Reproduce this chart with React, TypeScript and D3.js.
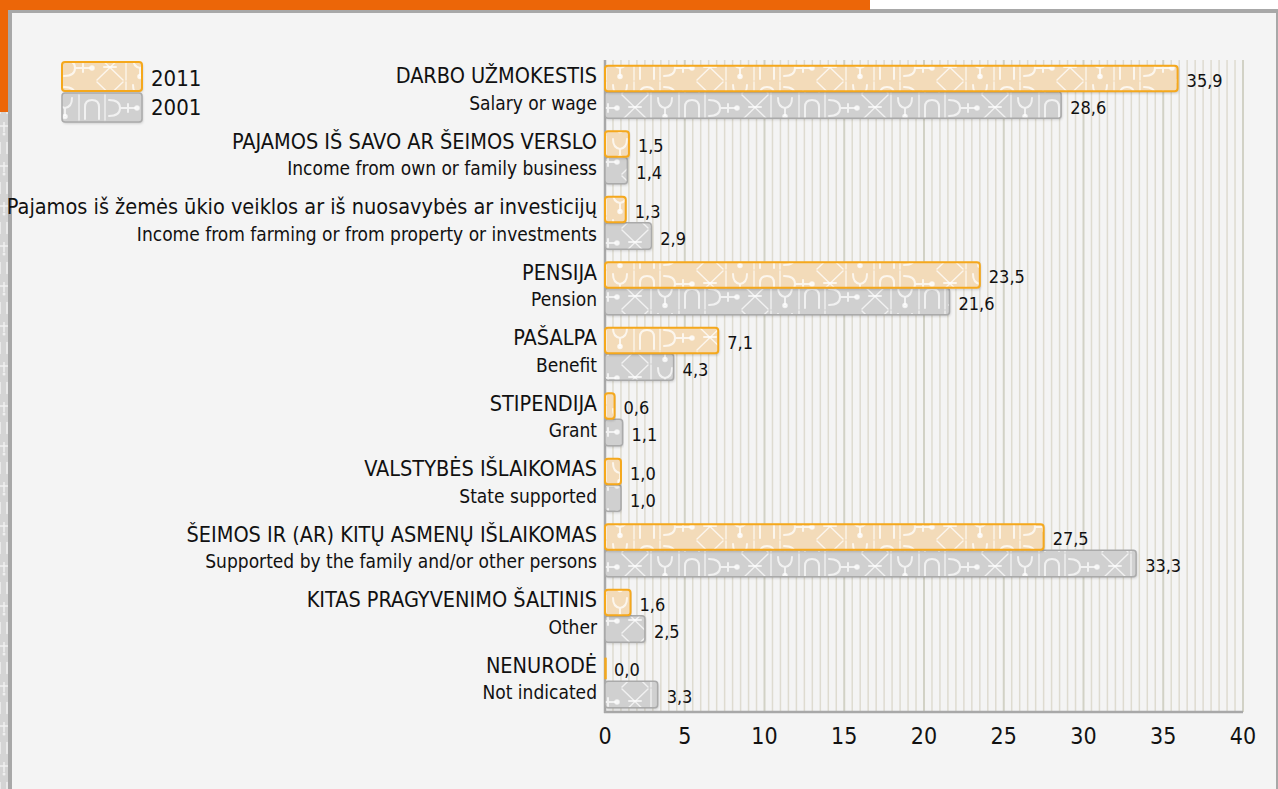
import React from "react";
import * as d3 from "d3";

const categoriesLT = [
  "DARBO UŽMOKESTIS",
  "PAJAMOS IŠ SAVO AR ŠEIMOS VERSLO",
  "Pajamos iš žemės ūkio veiklos ar iš nuosavybės ar investicijų",
  "PENSIJA",
  "PAŠALPA",
  "STIPENDIJA",
  "VALSTYBĖS IŠLAIKOMAS",
  "ŠEIMOS IR (AR) KITŲ ASMENŲ IŠLAIKOMAS",
  "KITAS PRAGYVENIMO ŠALTINIS",
  "NENURODĖ",
];
const categoriesEN = [
  "Salary or wage",
  "Income from own or family business",
  "Income from farming or from property or investments",
  "Pension",
  "Benefit",
  "Grant",
  "State supported",
  "Supported by the family and/or other persons",
  "Other",
  "Not indicated",
];
const values2011 = [35.9, 1.5, 1.3, 23.5, 7.1, 0.6, 1.0, 27.5, 1.6, 0.0];
const values2001 = [28.6, 1.4, 2.9, 21.6, 4.3, 1.1, 1.0, 33.3, 2.5, 3.3];
const xTicks = [0, 5, 10, 15, 20, 25, 30, 35, 40];
const legendLabels = ["2011", "2001"];

const FONT = "'DejaVu Sans Condensed', 'Liberation Sans Narrow', sans-serif";

const fmt = (v: number) => v.toFixed(1).replace(".", ",");

function Glyphs({ color }: { color: string }) {
  // decorative folk-motif tile, 120 x 27
  return (
    <g fill="none" stroke={color} strokeWidth={2} strokeLinecap="round">
      <path d="M1 1 V26 M29 1 V26 M55 1 V26" strokeWidth={1.3} />
      {/* Y */}
      <path d="M8 4 Q8 13 15 14 Q22 13 22 4 M15 14 V21" />
      <circle cx={15} cy={22.5} r={1.8} fill={color} />
      {/* arch */}
      <path d="M35 25 V13 Q35 6 42 6 Q49 6 49 13 V25" />
      {/* ɔ-+ */}
      <path d="M59 6 Q70 6 70 14 Q70 22 59 22 M70 14 H85 M78 10 V18" />
      <circle cx={87} cy={14} r={1.8} fill={color} />
      {/* X */}
      <path d="M92 1 L118 26 M118 1 L92 26" strokeWidth={1.4} />
      <path d="M99 13 H111" />
    </g>
  );
}

export default function App() {
  const W = 1278;
  const H = 789;
  const x = d3.scaleLinear().domain([0, 40]).range([605, 1243]);
  const y = d3
    .scaleBand<string>()
    .domain(categoriesLT)
    .range([59, 714])
    .padding(0);
  const bh = 26.6;
  const gridVals = d3.range(0, 40.01, 0.5);

  return (
    <svg
      width={W}
      height={H}
      style={{ position: "absolute", left: 0, top: 0, background: "#ffffff" }}
      fontFamily={FONT}
    >
      <defs>
        <pattern id="patO" patternUnits="userSpaceOnUse" width={120} height={27} x={605} y={0}>
          <Glyphs color="rgba(255,255,255,0.75)" />
        </pattern>
        <pattern id="patG" patternUnits="userSpaceOnUse" width={120} height={27} x={650} y={13}>
          <Glyphs color="rgba(255,255,255,0.7)" />
        </pattern>
        <pattern id="patSide" patternUnits="userSpaceOnUse" width={8} height={40}>
          <rect width={8} height={40} fill="#d4d4d4" />
          <path d="M0 6 H8 M4 2 V12 M0 22 V34 M7 22 V34" stroke="#f0f0f0" strokeWidth={1.5} fill="none" />
          <circle cx={4} cy={14} r={1.5} fill="#f0f0f0" />
        </pattern>
        <filter id="shadow" x="-5%" y="-20%" width="110%" height="150%">
          <feDropShadow dx={1} dy={1.5} stdDeviation={1} floodColor="#000" floodOpacity={0.18} />
        </filter>
      </defs>

      {/* frame */}
      <rect x={0} y={0} width={W} height={H} fill="#ffffff" />
      <rect x={0} y={112} width={8} height={H - 112} fill="url(#patSide)" />
      <rect x={0} y={0} width={870} height={10} fill="#ec6608" />
      <rect x={0} y={0} width={8} height={112} fill="#ec6608" />
      <rect x={8} y={9} width={W - 8} height={H - 9} fill="#a8a8a8" />
      <rect x={12} y={13} width={W - 12 - 2} height={H - 13} fill="#f4f4f4" />
      <rect x={8} y={9} width={862} height={1} fill="#ec6608" />

      {/* grid */}
      {gridVals.map((v, i) => (
        <line
          key={i}
          x1={x(v)}
          x2={x(v)}
          y1={60}
          y2={712}
          stroke={v % 5 === 0 ? "#d2d2c6" : "#dedbd0"}
          strokeWidth={v % 5 === 0 ? 2 : 1.5}
        />
      ))}
      {/* axes */}
      <line x1={x(0)} x2={x(0)} y1={60} y2={713} stroke="#a8a8a8" strokeWidth={2.5} />
      <line x1={x(0) - 1} x2={x(40)} y1={712} y2={712} stroke="#a8a8a8" strokeWidth={2.5} />

      {/* bars */}
      {categoriesLT.map((c, i) => {
        const cy = (y(c) as number) + y.bandwidth() / 2;
        const v1 = values2011[i];
        const v2 = values2001[i];
        const w1 = x(v1) - x(0);
        const w2 = x(v2) - x(0);
        return (
          <g key={c}>
            {/* 2001 gray */}
            <g filter="url(#shadow)">
              <rect x={x(0)} y={cy} width={w2} height={bh} rx={3} fill="#d0d0d0" />
            </g>
            <rect x={x(0)} y={cy} width={w2} height={bh} rx={3} fill="url(#patG)" />
            <rect x={x(0)} y={cy} width={w2} height={bh} rx={3} fill="none" stroke="#aaaaaa" strokeWidth={1.5} />
            {/* 2011 orange */}
            {w1 > 0 ? (
              <>
                <g filter="url(#shadow)">
                  <rect x={x(0)} y={cy - bh} width={w1} height={bh} rx={3} fill="#f3dbb9" />
                </g>
                <rect x={x(0)} y={cy - bh} width={w1} height={bh} rx={3} fill="url(#patO)" />
                <rect x={x(0)} y={cy - bh + 0.5} width={w1} height={bh - 1} rx={3} fill="none" stroke="#f5a81c" strokeWidth={2} />
              </>
            ) : (
              <line x1={x(0) + 0.5} x2={x(0) + 0.5} y1={cy - bh + 3} y2={cy - 2} stroke="#f5a81c" strokeWidth={2.5} />
            )}
            {/* value labels */}
            <text x={x(v1) + 9} y={cy - bh / 2 + 2} dominantBaseline="central" fontSize={18} fill="#111">
              {fmt(v1)}
            </text>
            <text x={x(v2) + 9} y={cy + bh / 2 + 2} dominantBaseline="central" fontSize={18} fill="#111">
              {fmt(v2)}
            </text>
            {/* category labels */}
            <text x={597} y={cy - 16} dominantBaseline="central" textAnchor="end" fontSize={21.5} fill="#111">
              {c}
            </text>
            <text x={597} y={cy + 11} dominantBaseline="central" textAnchor="end" fontSize={19} fill="#111">
              {categoriesEN[i]}
            </text>
          </g>
        );
      })}

      {/* x tick labels */}
      {xTicks.map((t) => (
        <text key={t} x={x(t)} y={736} textAnchor="middle" dominantBaseline="central" fontSize={23} fill="#111">
          {t}
        </text>
      ))}

      {/* legend */}
      <g filter="url(#shadow)">
        <rect x={62} y={62} width={80} height={29} rx={3} fill="#f3dbb9" />
        <rect x={62} y={93} width={80} height={29} rx={3} fill="#d0d0d0" />
      </g>
      <rect x={62} y={62} width={80} height={29} rx={3} fill="url(#patO)" />
      <rect x={62} y={93} width={80} height={29} rx={3} fill="url(#patG)" />
      <rect x={62} y={62} width={80} height={29} rx={3} fill="none" stroke="#f5a81c" strokeWidth={2} />
      <rect x={62} y={93} width={80} height={29} rx={3} fill="none" stroke="#aaaaaa" strokeWidth={1.5} />
      {legendLabels.map((l, i) => (
        <text key={l} x={151} y={78 + i * 29} dominantBaseline="central" fontSize={22} fill="#111">
          {l}
        </text>
      ))}
    </svg>
  );
}
